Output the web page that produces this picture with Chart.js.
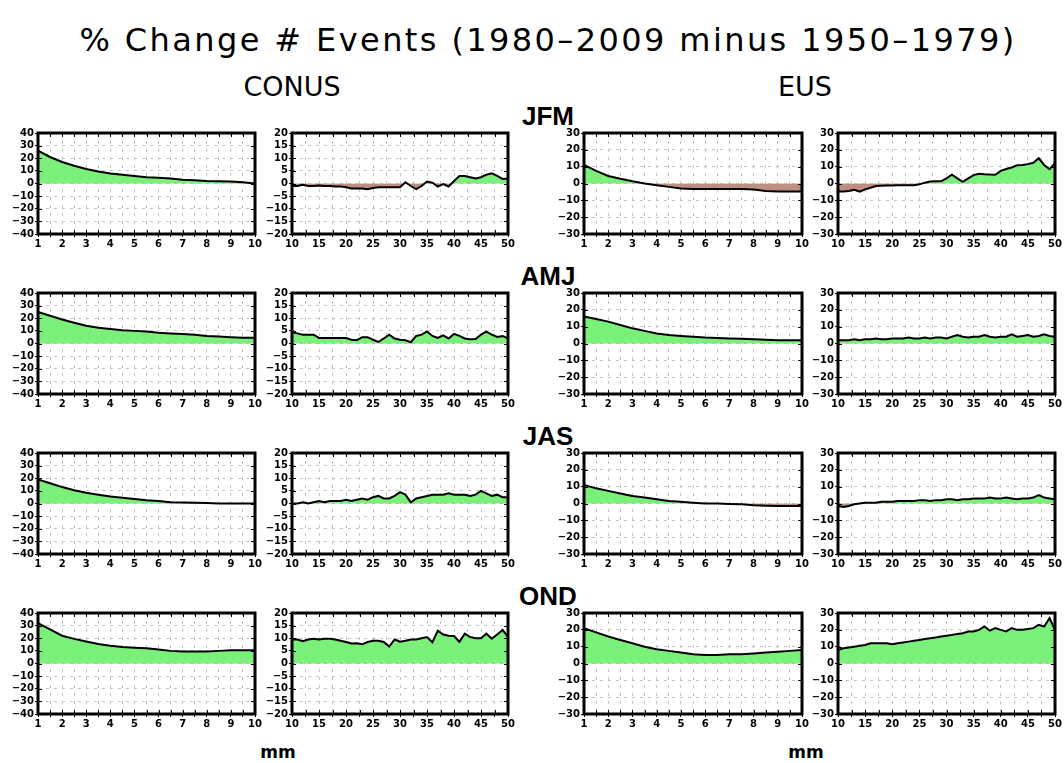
<!DOCTYPE html>
<html>
<head>
<meta charset="utf-8">
<script src="https://cdn.jsdelivr.net/npm/chart.js@4"></script>
<style>
  body { margin: 0; background: #fff; width: 1064px; height: 763px; position: relative; overflow: hidden; font-family: "DejaVu Sans", sans-serif; }
  .lbl { position: absolute; white-space: nowrap; transform: translate(-50%, -50%); color: #000; }
  .panel { position: absolute; }
</style>
</head>
<body>
<div class="lbl" style="left:548px;top:40px;font-size:32px;letter-spacing:2.4px">% Change # Events (1980–2009 minus 1950–1979)</div>
<div class="lbl" style="left:292px;top:86px;font-size:27px">CONUS</div>
<div class="lbl" style="left:805px;top:86px;font-size:27px">EUS</div>
<div class="lbl" style="left:278px;top:752px;font-size:17px;font-weight:bold">mm</div>
<div class="lbl" style="left:806px;top:752px;font-size:17px;font-weight:bold">mm</div>

<script>
// precipitation thresholds (mm)
const mmSmall = [1, 1.5, 2, 2.5, 3, 3.5, 4, 4.5, 5, 5.5, 6, 6.5, 7, 7.5, 8, 8.5, 9, 9.5, 10];
const mmLarge = [10, 11, 12, 13, 14, 15, 16, 17, 18, 19, 20, 21, 22, 23, 24, 25, 26, 27, 28, 29, 30,
                 31, 32, 33, 34, 35, 36, 37, 38, 39, 40, 41, 42, 43, 44, 45, 46, 47, 48, 49, 50];

const seasons = ['JFM', 'AMJ', 'JAS', 'OND'];

// % change in number of events, CONUS
const conusJfmSmall = [26, 21, 17, 14, 11.5, 9.5, 8, 7, 6, 5, 4.5, 4, 3, 2.5, 2, 1.8, 1.5, 1, 0];
const conusAmjSmall = [25, 22, 19, 16.5, 14, 12.5, 11.5, 10.5, 10, 9.5, 8.5, 8, 7.5, 7, 6, 5.5, 5, 4.5, 4.5];
const conusJasSmall = [19, 16, 13, 10.5, 8.5, 7, 5.5, 4.5, 3.5, 2.5, 2, 1, 0.8, 0.5, 0.3, 0, 0, 0, 0];
const conusOndSmall = [32, 27, 22, 19.5, 17.5, 15.5, 14, 13, 12.5, 12, 11, 10, 9.5, 9.5, 9.5, 10, 10.5, 10.5, 10.5];

const conusJfmLarge = [-1, -1, -0.5, -1, -1, -0.8, -1, -1, -1.2, -1.2, -1.5, -2, -2, -2, -2.3, -1.8, -1.5, -1.5, -1.5, -1.5, -1.5,
                       0.5, -1, -2.2, -1, 0.8, 0.3, -1.2, -0.2, -1.2, 1, 3, 3, 2.5, 2, 2.5, 3.5, 4, 3, 1.8, 2];
const conusAmjLarge = [4.5, 4, 3.5, 3.5, 3.5, 2.2, 2.2, 2.2, 2.2, 2.2, 2.2, 1.5, 1.3, 2.5, 2.5, 1.5, 0.6, 2, 3.5, 2, 1.5,
                       1.3, 0.5, 3, 3.5, 4.8, 3, 2.2, 3.2, 2, 3.8, 3, 2, 1.7, 1.8, 3.5, 4.7, 3.5, 2.6, 3, 2];
const conusJasLarge = [0, 0, 0.5, 0, 0.5, 1, 0.5, 1, 1, 1, 1.5, 1, 1.5, 2, 1.5, 2.5, 3, 2, 2, 3, 4.5,
                       3.5, 0.5, 2, 2.5, 3, 3.5, 3.5, 3.5, 4, 3.5, 3.5, 3.5, 3, 3.5, 5, 4, 3, 3.5, 2.5, 2.5];
const conusOndLarge = [9.5, 9.5, 8.8, 9.5, 9.8, 9.5, 9.8, 9.8, 9.5, 9, 8.5, 7.9, 8, 7.6, 8.5, 9, 9, 8.5, 6.7, 9.5, 8.6,
                       9, 9.5, 9.5, 10, 10.5, 8.4, 13, 11.5, 11, 10.9, 8.6, 11.8, 10.5, 10, 10, 11.8, 9.8, 11.5, 13.3, 10.5];

// % change in number of events, EUS
const eusJfmSmall = [11, 7.5, 4.5, 2.8, 1.3, 0, -1, -2, -3, -3.3, -3.3, -3.3, -3.3, -3.3, -3.5, -4.5, -4.8, -4.8, -4.8];
const eusAmjSmall = [16, 14.5, 13, 11, 9, 7.5, 6, 5, 4.5, 4, 3.5, 3.2, 3, 2.8, 2.5, 2.2, 2, 2, 2];
const eusJasSmall = [11, 9, 7.5, 6, 4.5, 3.5, 2.5, 1.5, 1, 0.5, 0, 0, -0.3, -0.5, -1, -1.3, -1.5, -1.5, -1.5];
const eusOndSmall = [21, 18.5, 16, 14, 12, 10, 8.5, 7.5, 6.5, 5.5, 5, 5, 5.5, 5.5, 6, 6.5, 7, 7.5, 8];

const eusJfmLarge = [-4.8, -4.8, -4.5, -3.8, -4.8, -3.5, -2.5, -1.5, -1.3, -1.2, -1.2, -1, -1, -1, -1, -0.5, 0.5, 1.2, 1.3, 1.3, 3,
                     5.2, 3, 1, 3, 5, 5.8, 5.5, 5.3, 5.2, 7.5, 8.6, 9.5, 10.8, 11, 11.5, 12.3, 15, 11, 8.5, 12];
const eusAmjLarge = [2, 2, 2, 2.5, 2, 2.5, 2.5, 3, 2.5, 2.5, 3, 3, 3, 3.5, 3, 3, 3.5, 3, 3.5, 3.5, 3,
                     4, 5, 4, 3.5, 4, 4, 5, 4, 3.5, 4, 4, 5.5, 4, 4.5, 5, 4, 4.5, 5.5, 4.5, 4];
const eusJasLarge = [-1.5, -2, -1.5, -0.5, 0, 0.5, 0.5, 0.5, 1, 1, 1, 1.5, 1.5, 1.5, 1.5, 2, 2, 1.5, 2, 2, 2.5,
                     2.5, 2, 2.5, 2.5, 3, 3, 3, 3.5, 3, 3, 3.5, 3, 2.5, 3, 3, 3.5, 5, 3.5, 3, 2.5];
const eusOndLarge = [8, 9, 9.5, 10, 10.5, 11, 12, 12, 12, 12, 11.5, 12, 12.5, 13, 13.5, 14, 14.5, 15, 15.5, 16, 16.5,
                     17, 17.5, 18, 19, 19, 20, 22, 19.5, 21, 20, 19, 21, 20, 20, 20.5, 21, 23, 22, 27, 20];

// axis ticks
const conusSmallTicks = [-40, -30, -20, -10, 0, 10, 20, 30, 40];
const conusLargeTicks = [-20, -15, -10, -5, 0, 5, 10, 15, 20];
const eusTicks = [-30, -20, -10, 0, 10, 20, 30];
const gridSmall = [1, 1.5, 2, 2.5, 3, 3.5, 4, 4.5, 5, 5.5, 6, 6.5, 7, 7.5, 8, 8.5, 9, 9.5, 10];
const gridLarge = [10, 12.5, 15, 17.5, 20, 22.5, 25, 27.5, 30, 32.5, 35, 37.5, 40, 42.5, 45, 47.5, 50];

const series = [
  [conusJfmSmall, conusJfmLarge, eusJfmSmall, eusJfmLarge],
  [conusAmjSmall, conusAmjLarge, eusAmjSmall, eusAmjLarge],
  [conusJasSmall, conusJasLarge, eusJasSmall, eusJasLarge],
  [conusOndSmall, conusOndLarge, eusOndSmall, eusOndLarge]
];

// panel frames
const colLeft = [38, 292, 584, 838];
const colWidth = [217, 216, 218, 217];
const rowTop = [132, 292, 452, 612];
const frameH = 102;
const padL = 40, padT = 6, padR = 10, padB = 22;

const GREEN = 'rgb(122,240,122)';
const BROWN = 'rgb(190,142,130)';

// thick box around each plot with small inward ticks at the grid positions
const framePlugin = {
  id: 'frame',
  afterDraw(chart) {
    const a = chart.chartArea, ctx = chart.ctx;
    ctx.save();
    ctx.strokeStyle = '#000';
    ctx.lineWidth = 3;
    ctx.strokeRect(a.left, a.top, a.right - a.left, a.bottom - a.top);
    ctx.lineWidth = 1;
    ctx.beginPath();
    chart.scales.x.ticks.forEach(t => {
      const px = Math.round(chart.scales.x.getPixelForValue(t.value)) + 0.5;
      ctx.moveTo(px, a.top); ctx.lineTo(px, a.top + 4);
      ctx.moveTo(px, a.bottom); ctx.lineTo(px, a.bottom - 4);
    });
    chart.scales.y.ticks.forEach(t => {
      const py = Math.round(chart.scales.y.getPixelForValue(t.value)) + 0.5;
      ctx.moveTo(a.left, py); ctx.lineTo(a.left + 4, py);
      ctx.moveTo(a.right, py); ctx.lineTo(a.right - 4, py);
    });
    ctx.stroke();
    ctx.restore();
  }
};

function fmt(v) {
  return v < 0 ? '\u2212' + Math.abs(v) : String(v);
}

function makePanel(row, col) {
  const small = col % 2 === 0;
  const xs = small ? mmSmall : mmLarge;
  const ys = series[row][col];
  const yTicks = col >= 2 ? eusTicks : (small ? conusSmallTicks : conusLargeTicks);
  const xGrid = small ? gridSmall : gridLarge;

  const div = document.createElement('div');
  div.className = 'panel';
  div.style.left = (colLeft[col] - padL) + 'px';
  div.style.top = (rowTop[row] - padT) + 'px';
  const canvas = document.createElement('canvas');
  canvas.width = colWidth[col] + padL + padR;
  canvas.height = frameH + padT + padB;
  div.appendChild(canvas);
  document.body.appendChild(div);

  const tickFont = { family: 'DejaVu Sans', size: 10, weight: 'bold' };
  const gridOpts = { color: '#c4c4c4', lineWidth: 1, tickLength: 3, tickColor: '#000' };

  new Chart(canvas, {
    type: 'line',
    data: {
      datasets: [{
        data: xs.map((x, i) => ({ x: x, y: ys[i] })),
        borderColor: '#000',
        borderWidth: 2,
        pointRadius: 0,
        tension: 0,
        fill: { target: { value: 0 }, above: GREEN, below: BROWN }
      }]
    },
    options: {
      responsive: false,
      animation: false,
      layout: { padding: { top: padT, right: padR, left: 0, bottom: 0 } },
      plugins: { legend: { display: false }, tooltip: { enabled: false } },
      scales: {
        x: {
          type: 'linear',
          min: xs[0],
          max: xs[xs.length - 1],
          afterBuildTicks: s => { s.ticks = xGrid.map(v => ({ value: v })); },
          afterFit: s => { s.height = padB; },
          grid: gridOpts,
          border: { display: false, dash: [3, 5] },
          ticks: {
            autoSkip: false, maxRotation: 0, padding: 1, color: '#000', font: tickFont,
            callback: v => (small ? Number.isInteger(v) : v % 5 === 0) ? fmt(v) : ''
          }
        },
        y: {
          min: yTicks[0],
          max: yTicks[yTicks.length - 1],
          afterBuildTicks: s => { s.ticks = yTicks.map(v => ({ value: v })); },
          afterFit: s => { s.width = padL; },
          grid: gridOpts,
          border: { display: false, dash: [3, 5] },
          ticks: { autoSkip: false, padding: 1, color: '#000', font: tickFont, callback: v => fmt(v) }
        }
      }
    },
    plugins: [framePlugin]
  });
}

seasons.forEach((name, r) => {
  const lab = document.createElement('div');
  lab.className = 'lbl';
  lab.style.left = '548px';
  lab.style.top = (rowTop[r] - 16) + 'px';
  lab.style.fontSize = '26px';
  lab.style.fontWeight = 'bold';
  lab.style.fontFamily = '"Liberation Sans", sans-serif';
  lab.textContent = name;
  document.body.appendChild(lab);
  for (let c = 0; c < 4; c++) makePanel(r, c);
});
</script>
</body>
</html>
